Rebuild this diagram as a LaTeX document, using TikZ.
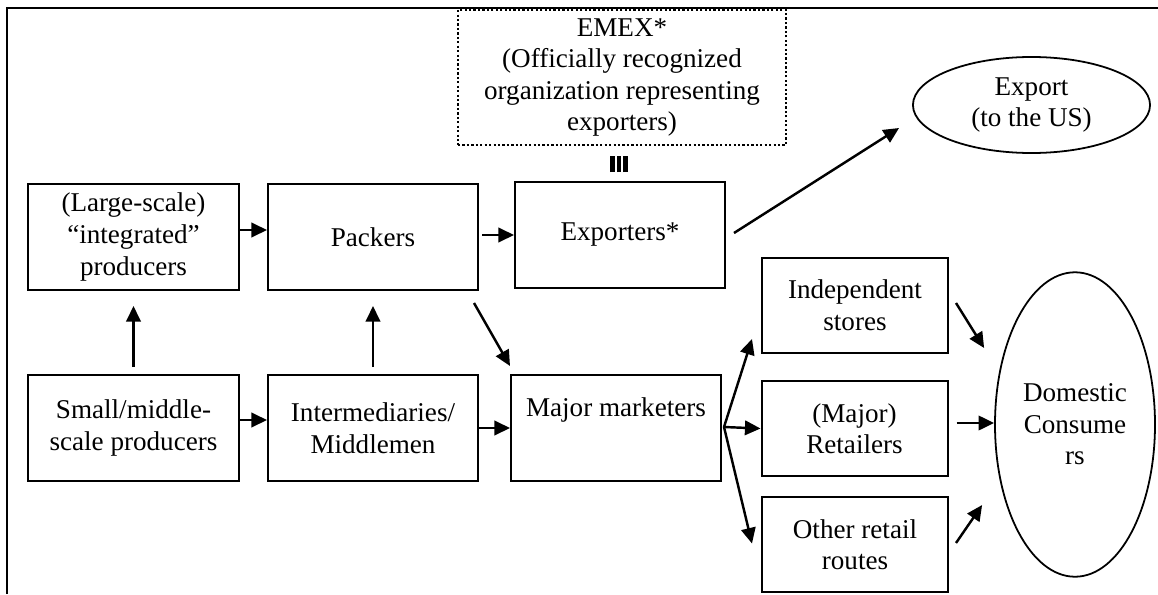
\documentclass[tikz,border=0pt]{standalone}
\usepackage{fontspec}
\setmainfont{Liberation Serif}
\usepackage{tikz}
\usetikzlibrary{arrows.meta, shapes.geometric}

\begin{document}
\begin{tikzpicture}[
    x=0.45pt, y=-0.45pt,
    font=\fontsize{12.2}{14.2}\selectfont,
    box/.style={
        rectangle, draw, line width=0.9pt,
        minimum width=94.5pt, minimum height=47.7pt,
        align=center, inner sep=2pt
    },
    shop/.style={box, minimum width=83.7pt, minimum height=42.75pt},
    oval/.style={ellipse, draw, line width=0.8pt, align=center, inner sep=0pt},
    arrow/.style={-{Triangle[length=7pt, width=6.5pt]}, line width=1.1pt}
]
\useasboundingbox (0,0) rectangle (1158,594);
\draw[line width=1.3pt] (7,594) -- (7,8) -- (1158,8);

\node[draw, line width=1pt, dash pattern=on 1pt off 1pt, minimum width=147.6pt, minimum height=60.75pt,
      align=center, inner sep=1pt] (emex) at (622,77.5)
      {EMEX*\\(Officially recognized\\organization representing\\exporters)};

\node[box] (large) at (133.5,237) {(Large-scale)\\“integrated”\\producers};
\node[box] (packers) at (373,237) {Packers};
\node[box] (exporters) at (620,235) {Exporters*};
\node[box] (small) at (133.5,428) {Small/middle-\\scale producers};
\node[box] (inter) at (373,428) {Intermediaries/\\Middlemen};
\node[box] (major) at (616,428) {Major marketers\\\strut};
\node[shop] (indep) at (855,305.5) {Independent\\stores};
\node[shop] (retail) at (854.5,428.5) {(Major)\\Retailers};
\node[shop] (other) at (855,544.5) {Other retail\\routes};
\node[oval, minimum width=106.7pt, minimum height=43.2pt] (export) at (1031.5,105) {Export\\(to the US)};
\node[oval, minimum width=72pt, minimum height=137pt] (domestic) at (1075,424.5) {Domestic\\Consume\\rs};

\foreach \dx in {-6.5,0,6.5}
    \draw[line width=1.9pt] ([shift={(\dx-1,-9)}]exporters.north) -- ++(0,-16);

\draw[arrow] ([shift={(0,-7)}]large.east) -- ([shift={(0,-7)}]packers.west);
\draw[arrow] ([shift={(3,-2)}]packers.east) -- (exporters.west);
\draw[arrow] ([shift={(0,-7)}]small.north) -- ([shift={(0,15)}]large.south);
\draw[arrow] ([shift={(0,-7)}]inter.north) -- ([shift={(0,15)}]packers.south);
\draw[arrow] ([shift={(0,-8)}]small.east) -- ([shift={(0,-8)}]inter.west);
\draw[arrow] (inter.east) -- (major.west);
\draw[arrow] ([shift={(-5,12)}]packers.south east) -- ([shift={(0,-8)}]major.north west);
\draw[arrow] ([shift={(8,-2)}]exporters.east) -- ([shift={(-13,23)}]export.west);
\draw[arrow] ([shift={(2,-1)}]major.east) -- ([shift={(-9,-15)}]indep.south west);
\draw[arrow] ([shift={(2,-1)}]major.east) -- (retail.west);
\draw[arrow] ([shift={(2,-1)}]major.east) -- ([shift={(-9,-1)}]other.west);
\draw[arrow] ([shift={(7,-2.5)}]indep.east) -- ([shift={(-10,-76.5)}]domestic.west);
\draw[arrow] ([shift={(8,-5.5)}]retail.east) -- ([shift={(0,-1.5)}]domestic.west);
\draw[arrow] ([shift={(7,-1.5)}]other.east) -- ([shift={(-12,80.5)}]domestic.west);
\end{tikzpicture}
\end{document}
